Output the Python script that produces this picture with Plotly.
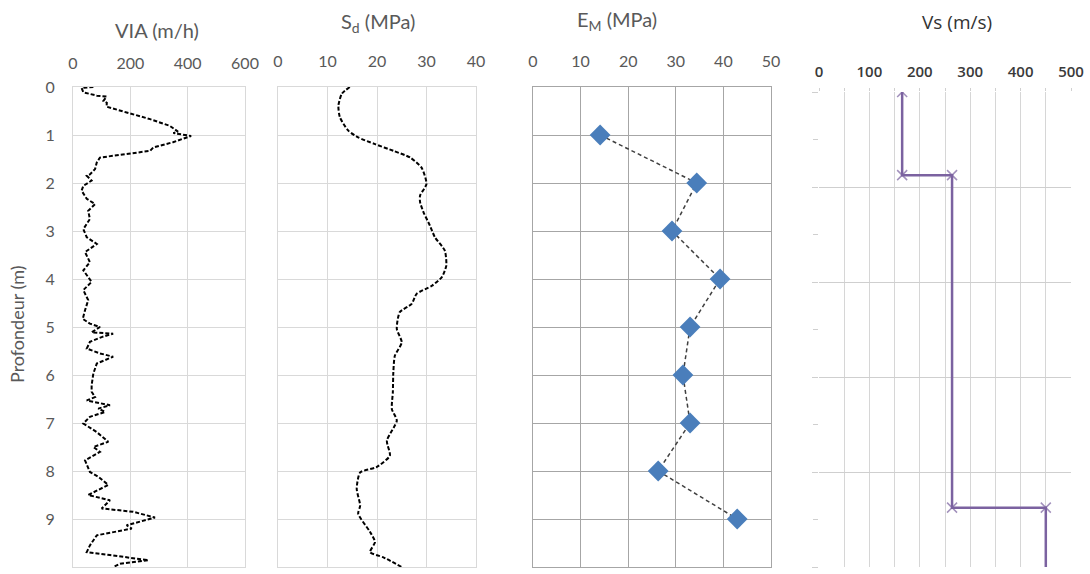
import plotly.graph_objects as go

# ---------------- data ----------------
via_depth = [0.00, 0.02, 0.11, 0.18, 0.20, 0.29, 0.33, 0.41, 0.53, 0.67, 0.81, 0.88, 0.93, 0.96,
             1.02, 1.15, 1.26, 1.33, 1.40, 1.47, 1.57, 1.71, 1.82, 1.85, 1.95, 2.06, 2.16, 2.33,
             2.44, 2.58, 2.75, 2.96, 3.13, 3.27, 3.44, 3.65, 3.82, 4.06, 4.23, 4.44, 4.65, 4.83,
             4.93, 5.00, 5.11, 5.14, 5.21, 5.31, 5.45, 5.55, 5.62, 5.76, 5.97, 6.21, 6.35, 6.46,
             6.53, 6.63, 6.70, 6.77, 6.87, 7.01, 7.19, 7.39, 7.50, 7.60, 7.78, 8.02, 8.12, 8.29,
             8.50, 8.61, 8.78, 8.85, 8.97, 9.13, 9.20, 9.34, 9.55, 9.69, 9.75, 9.86, 9.93, 10.00]
via_value = [71, 30, 36, 83, 117, 106, 118, 117, 187, 269, 338, 356, 366, 350,
             412, 349, 280, 269, 188, 94, 83, 77, 59, 48, 65, 36, 30, 48,
             77, 53, 59, 36, 48, 83, 42, 59, 36, 65, 36, 53, 42, 34,
             59, 94, 65, 140, 100, 59, 48, 94, 140, 83, 71, 65, 65, 77,
             48, 129, 88, 112, 59, 36, 83, 123, 71, 94, 42, 59, 88, 123,
             53, 129, 100, 210, 286, 187, 205, 83, 59, 48, 129, 263, 164, 141]

sd_depth = [0.00, 0.14, 0.39, 0.63, 0.91, 1.05, 1.19, 1.33, 1.47, 1.68, 2.02, 2.26, 2.40, 2.61,
            2.89, 3.13, 3.41, 3.72, 3.96, 4.14, 4.31, 4.52, 4.69, 5.04, 5.32, 5.60, 5.94, 6.36,
            6.71, 6.95, 7.37, 7.68, 7.92, 8.03, 8.37, 8.72, 8.89, 9.27, 9.48, 9.69, 9.80, 10.00]
sd_value = [14.5, 12.9, 12.2, 12.5, 14.2, 16.2, 19.6, 23.3, 26.7, 29.0, 30.0, 28.7, 28.7, 29.4,
            30.7, 31.7, 33.7, 34.0, 33.1, 31.1, 28.0, 27.0, 24.6, 24.0, 25.0, 23.6, 23.3, 23.2,
            23.0, 24.0, 22.0, 22.6, 19.9, 16.6, 15.9, 16.6, 16.2, 18.6, 19.6, 18.6, 21.3, 25.0]

em_depth = [1, 2, 3, 4, 5, 6, 7, 8, 9]
em_value = [14.1, 34.4, 29.2, 39.3, 33.0, 31.5, 33.0, 26.3, 42.9]

vs_depth = [0, 1.75, 1.75, 8.75, 8.75, 10]
vs_value = [165, 165, 264, 264, 450, 450]
vs_marker_size = [10, 10, 10, 10, 10, 0]

depth_ticks = list(range(0, 11))

# ---------------- figure ----------------
W, H = 1090, 574
FONT = "Lato, 'Open Sans', sans-serif"
GRAY_TXT = "#595959"


def xd(a, b):
    return [a / W, b / W]


def yd(top, bottom):
    return [1 - bottom / H, 1 - top / H]


fig = go.Figure()

fig.add_trace(go.Scatter(x=via_value, y=via_depth, mode="lines", xaxis="x", yaxis="y",
                         line=dict(color="black", width=2, dash="4px,2px"), showlegend=False))
fig.add_trace(go.Scatter(x=sd_value, y=sd_depth, mode="lines", xaxis="x2", yaxis="y2",
                         line=dict(color="black", width=2, dash="4px,2px", shape="spline", smoothing=0.6),
                         showlegend=False))
fig.add_trace(go.Scatter(x=em_value, y=em_depth, mode="lines+markers", xaxis="x3", yaxis="y3",
                         line=dict(color="#404040", width=1.5, dash="4px,3px"),
                         marker=dict(symbol="diamond", size=16, color="#4a7ebb"),
                         showlegend=False))
fig.add_trace(go.Scatter(x=vs_value, y=vs_depth, mode="lines+markers", xaxis="x4", yaxis="y4",
                         line=dict(color="#7b62a0", width=2.5),
                         marker=dict(symbol="x-thin", size=vs_marker_size,
                                     line=dict(color="#7b62a0", width=1.5)),
                         showlegend=False))

common_x = dict(side="top", showline=True, mirror=True, zeroline=False, fixedrange=True,
                tickfont=dict(family=FONT, size=16, color=GRAY_TXT))
common_y = dict(range=[10, 0], dtick=1, showline=True, mirror=True, zeroline=False, fixedrange=True)

fig.update_layout(
    autosize=True,
    margin=dict(l=0, r=0, t=0, b=0, autoexpand=False),
    paper_bgcolor="white", plot_bgcolor="white",
    font=dict(family=FONT, color=GRAY_TXT),
    xaxis=dict(common_x, domain=xd(73, 245), range=[0, 600], dtick=200,
               gridcolor="#d9d9d9", linecolor="#d9d9d9", ticklabelstandoff=11, anchor="y"),
    yaxis=dict(common_y, domain=yd(87, 567), gridcolor="#d9d9d9", linecolor="#d9d9d9",
               tickvals=depth_ticks, tickfont=dict(family=FONT, size=16, color=GRAY_TXT),
               ticklabelstandoff=14, anchor="x"),
    xaxis2=dict(common_x, domain=xd(278, 476), range=[0, 40], dtick=10,
                gridcolor="#d9d9d9", linecolor="#d9d9d9", ticklabelstandoff=13, anchor="y2"),
    yaxis2=dict(common_y, domain=yd(87, 567), gridcolor="#d9d9d9", linecolor="#d9d9d9",
                showticklabels=False, anchor="x2"),
    xaxis3=dict(common_x, domain=xd(533, 771), range=[0, 50], dtick=10,
                gridcolor="#a6a6a6", linecolor="#a6a6a6", ticklabelstandoff=13, anchor="y3"),
    yaxis3=dict(common_y, domain=yd(87, 567), gridcolor="#a6a6a6", linecolor="#a6a6a6",
                showticklabels=False, anchor="x3"),
    xaxis4=dict(side="top", domain=xd(819, 1071), range=[0, 500], dtick=100, zeroline=False,
                showline=False, gridcolor="#d6d6d6", ticks="outside", ticklen=3, tickcolor="#d0d0d0",
                minor=dict(dtick=50, showgrid=True, gridcolor="#d6d6d6", ticks="outside",
                           ticklen=3, tickcolor="#d0d0d0"),
                tickfont=dict(family="'Open Sans', sans-serif", size=15, color="#3a3a3a", weight=600),
                ticklabelstandoff=5, anchor="y4", fixedrange=True),
    yaxis4=dict(domain=yd(92, 567), range=[10, 0], dtick=2, tick0=0, zeroline=False,
                showline=False, gridcolor="#cfcfcf", showticklabels=False,
                ticks="outside", ticklen=6, tickcolor="#cfcfcf", fixedrange=True,
                minor=dict(dtick=1, ticks="outside", ticklen=5, tickcolor="#cfcfcf", showgrid=False),
                anchor="x4"),
)

annots = [
    dict(text="VIA (m/h)", x=157 / W, y=1 - 30 / H, size=20, color=GRAY_TXT, family=FONT),
    dict(text="S<sub>d</sub> (MPa)", x=378 / W, y=1 - 22 / H, size=20, color=GRAY_TXT, family=FONT),
    dict(text="E<sub>M</sub> (MPa)", x=617 / W, y=1 - 20 / H, size=20, color=GRAY_TXT, family=FONT),
    dict(text="Vs (m/s)", x=957 / W, y=1 - 22 / H, size=19, color="#333333", family="'Open Sans', sans-serif"),
]
for a in annots:
    fig.add_annotation(text=a["text"], x=a["x"], y=a["y"], xref="paper", yref="paper",
                       showarrow=False, xanchor="center", yanchor="middle",
                       font=dict(size=a["size"], color=a["color"], family=a["family"]))

fig.add_annotation(text="Profondeur (m)", x=17 / W, y=1 - 325 / H, xref="paper", yref="paper",
                   showarrow=False, textangle=-90, xanchor="center", yanchor="middle",
                   font=dict(size=18, color=GRAY_TXT, family=FONT))

post = """
document.documentElement.style.margin='0';
document.documentElement.style.padding='0';
document.documentElement.style.overflow='hidden';
document.body.style.margin='0';
document.body.style.padding='0';
document.body.style.overflow='hidden';
var gd = document.getElementById('{plot_id}');
gd.style.position='fixed'; gd.style.left='0'; gd.style.top='0';
gd.style.width='100vw'; gd.style.height='100vh';
Plotly.Plots.resize(gd);
"""

fig.write_html("out.html", config=dict(displayModeBar=False, responsive=True),
               default_width="100%", default_height="100%", post_script=post)
